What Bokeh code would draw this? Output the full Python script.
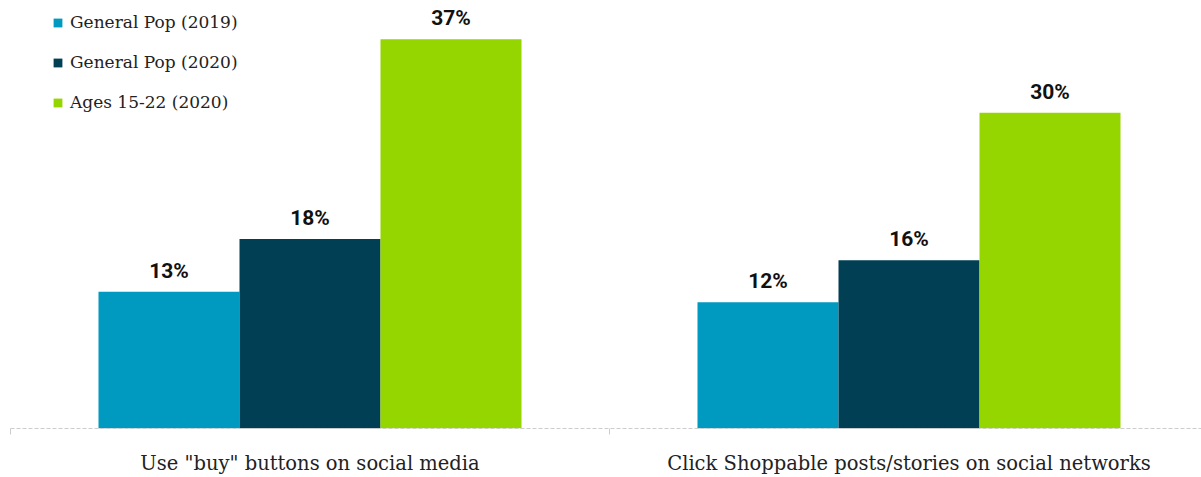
from bokeh.plotting import figure
from bokeh.models import ColumnDataSource, Range1d, FixedTicker, LabelSet, Legend, LegendItem
from bokeh.core.properties import value
from bokeh.transform import dodge
from bokeh.embed import file_html
from bokeh.resources import INLINE

categories = ['Use "buy" buttons on social media', 'Click Shoppable posts/stories on social networks']
series_names = ["General Pop (2019)", "General Pop (2020)", "Ages 15-22 (2020)"]
gen_2019 = [13, 12]
gen_2020 = [18, 16]
ages_2020 = [37, 30]
colors = ["#0099c0", "#013f54", "#96d600"]

centers = [i + 0.5 for i in range(len(categories))]
data = dict(x=centers, s0=gen_2019, s1=gen_2020, s2=ages_2020)
for k in ["s0", "s1", "s2"]:
    data[k + "_lbl"] = ["%d%%" % v for v in data[k]]
src = ColumnDataSource(data)

W, H = 1201, 477
p = figure(width=W, height=H, output_backend="svg", toolbar_location=None,
           x_range=Range1d(0, 1191 / 599.0), y_range=Range1d(0, 430 / 10.57),
           min_border_left=10, min_border_right=0, min_border_top=0, min_border_bottom=47)
p.outline_line_color = None
p.xgrid.visible = False
p.ygrid.visible = False
p.yaxis.visible = False
p.background_fill_color = "white"
p.border_fill_color = "white"

bw = 0.2354
offsets = [-bw, 0, bw]
items = []
for j, key in enumerate(["s0", "s1", "s2"]):
    r = p.vbar(x=dodge("x", offsets[j], range=p.x_range), top=key, bottom=0, width=bw,
               source=src, fill_color=colors[j], line_color=None)
    items.append(LegendItem(label=series_names[j], renderers=[r]))
    lbl = LabelSet(x=dodge("x", offsets[j], range=p.x_range), y=key, text=key + "_lbl",
                   source=src, text_align="center", text_baseline="middle", y_offset=21,
                   text_font=value("Roboto"), text_font_style="bold", text_font_size="21px",
                   text_color="#111111")
    p.add_layout(lbl)

legend = Legend(items=items, location=(42, 316), orientation="vertical",
                glyph_width=11, glyph_height=11, label_height=20, spacing=20,
                padding=0, margin=0, border_line_color=None, background_fill_alpha=0,
                label_text_font="DejaVu Serif", label_text_font_size="17px",
                label_text_color="#222222", label_standoff=7)
p.add_layout(legend)

ax = p.xaxis[0]
ax.ticker = FixedTicker(ticks=centers, minor_ticks=[0, 1, 2])
ax.major_label_overrides = {c: categories[i] for i, c in enumerate(centers)}
ax.major_tick_line_color = None
ax.major_tick_out = 0
ax.major_tick_in = 0
ax.minor_tick_line_color = "#cccccc"
ax.minor_tick_out = 6
ax.minor_tick_in = 0
ax.axis_line_color = "#cccccc"
ax.axis_line_dash = "4 2"
ax.major_label_standoff = 17
ax.major_label_text_font = "DejaVu Serif"
ax.major_label_text_font_size = "19.5px"
ax.major_label_text_color = "#222222"

open("out.html", "w").write(file_html(p, INLINE))
